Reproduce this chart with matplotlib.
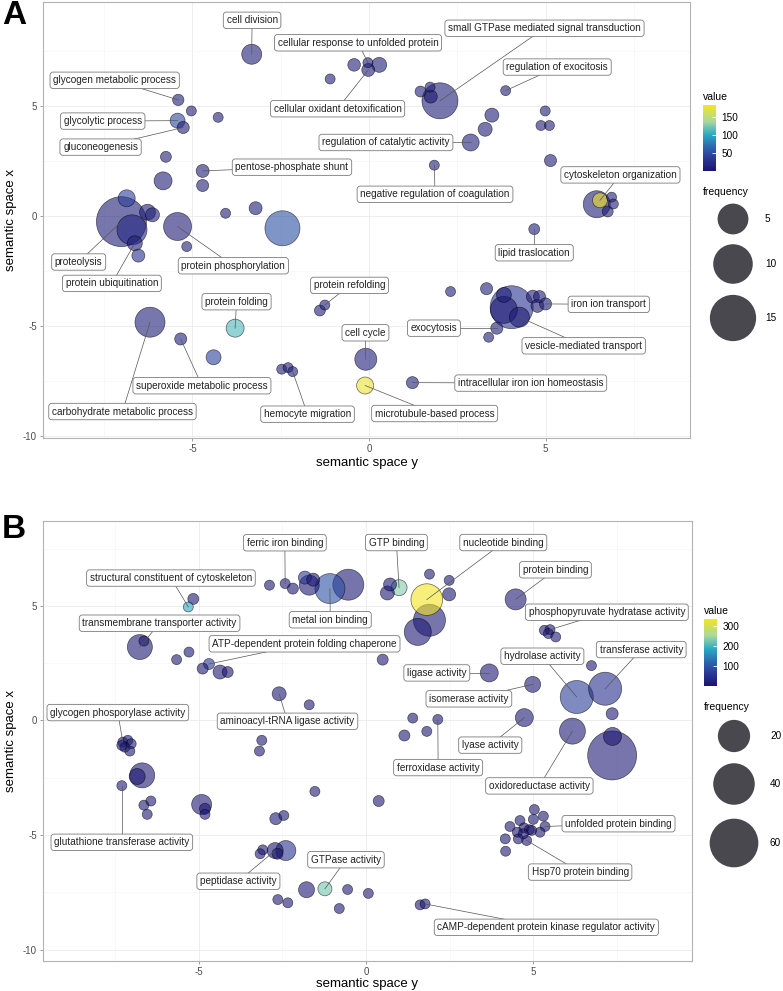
import numpy as np
import matplotlib.pyplot as plt
from matplotlib.colors import LinearSegmentedColormap, Normalize
from matplotlib.cm import ScalarMappable

plt.rcParams['font.family'] = ['Liberation Sans', 'DejaVu Sans']
plt.rcParams['axes.unicode_minus'] = False

# ---------------- panel A : biological process ----------------
a_x = [-7.01, 4.04, 2.01, -2.45, -6.20, -6.71, -5.42, 6.45, 3.82, -0.09,
       -3.32, 4.26, -5.83, -3.79, -0.11, 2.88, -6.86, -6.27, -5.42, 0.29,
       -6.63, -4.40, 6.54, 3.82, -6.13, 3.48, 3.29, -0.02, -0.42, -6.53,
       -4.71, 3.62, 1.75, 4.64, 4.77, -3.21, -5.26, -4.71, -5.40, 3.33,
       4.83, 5.00, 5.14, 1.23, -5.75, 1.46, -1.39, -5.33, 4.68, 6.76,
       -5.03, -4.27, -4.06, -5.16, 3.87, 1.85, 3.39, -1.10, 1.73, -0.03,
       4.99, 4.87, 5.11, 6.87, 6.92, 2.31, -1.25, -2.47, -2.29, -2.16]
a_y = [-0.26, -4.14, 5.22, -0.56, -4.82, -0.63, -0.48, 0.53, -4.26, -6.50,
       7.33, -4.59, 1.59, -5.09, -7.69, 3.33, 0.80, 0.17, 4.32, 6.85,
       -1.24, -6.41, 0.71, -3.58, 0.05, 4.57, 3.93, 6.62, 6.85, -1.80,
       2.04, -5.09, 5.41, -3.66, -4.08, 0.35, 4.01, 1.38, 5.26, -3.30,
       -3.66, -3.99, 2.51, -7.56, 2.68, 5.64, -4.29, -5.58, -0.60, 0.20,
       4.76, 4.47, 0.12, -1.39, 5.68, 2.30, -5.50, 6.21, 5.84, 6.95,
       4.76, 4.10, 4.10, 0.85, 0.54, -3.43, -4.04, -6.95, -6.88, -7.06]
a_value = [8, 30, 8, 50, 8, 15, 5, 8, 2, 8,
           8, 5, 8, 110, 175, 10, 40, 8, 45, 8,
           10, 40, 180, 5, 10, 8, 8, 5, 8, 25,
           8, 8, 3, 8, 5, 8, 8, 8, 8, 8,
           8, 8, 8, 8, 8, 8, 8, 8, 8, 5,
           8, 8, 8, 8, 8, 8, 8, 8, 8, 5,
           8, 8, 8, 8, 8, 8, 8, 8, 8, 8]
a_freq = [18.2, 12.4, 7.75, 7.17, 4.63, 4.63, 3.77, 3.37, 3.37, 1.73,
          1.23, 1.23, 0.82, 0.82, 0.65, 0.65, 0.65, 0.5, 0.38, 0.38,
          0.38, 0.38, 0.38, 0.38, 0.28, 0.28, 0.28, 0.2, 0.18, 0.2,
          0.2, 0.15, 0.2, 0.2, 0.2, 0.2, 0.15, 0.15, 0.12, 0.15,
          0.15, 0.15, 0.15, 0.15, 0.11, 0.11, 0.11, 0.15, 0.11, 0.11,
          0.1, 0.1, 0.1, 0.1, 0.1, 0.1, 0.1, 0.1, 0.1, 0.1,
          0.1, 0.1, 0.1, 0.1, 0.1, 0.1, 0.1, 0.1, 0.1, 0.1]

a_labels = ['cell division', 'cellular response to unfolded protein',
            'small GTPase mediated signal transduction', 'glycogen metabolic process',
            'glycolytic process', 'gluconeogenesis', 'cellular oxidant detoxification',
            'regulation of exocitosis', 'regulation of catalytic activity',
            'pentose-phosphate shunt', 'negative regulation of coagulation',
            'cytoskeleton organization', 'lipid traslocation', 'proteolysis',
            'protein ubiquitination', 'protein phosphorylation', 'protein refolding',
            'protein folding', 'cell cycle', 'iron ion transport', 'exocytosis',
            'vesicle-mediated transport', 'superoxide metabolic process',
            'carbohydrate metabolic process', 'hemocyte migration',
            'microtubule-based process', 'intracellular iron ion homeostasis']
a_lab_x = [-3.31, -0.31, 4.97, -7.20, -7.54, -7.60, -0.89, 5.33, 0.48, -2.18,
           1.87, 7.12, 4.68, -8.22, -7.28, -3.84, -0.55, -3.75, -0.10, 6.79,
           1.84, 6.08, -4.73, -6.98, -1.74, 1.86, 4.58]
a_lab_y = [8.87, 7.85, 8.51, 6.15, 4.30, 3.12, 4.86, 6.75, 3.33, 2.21,
           0.98, 1.86, -1.67, -2.09, -3.06, -2.26, -3.15, -3.89, -5.30, -4.01,
           -5.09, -5.89, -7.70, -8.87, -8.99, -8.96, -7.58]
a_lab_point = [10, 59, 2, 38, 18, 36, 27, 54, 15, 30,
               55, 22, 48, 0, 20, 6, 66, 13, 9, 41,
               31, 11, 47, 4, 69, 14, 43]

# ---------------- panel B : molecular function ----------------
b_x = [7.37, 6.31, 7.16, 1.90, 1.82, -0.53, -1.08, 1.55, 6.18, -6.77,
       -6.70, 4.48, -4.92, -2.40, -1.70, 3.69, 4.74, 7.38, 4.99, 0.99,
       -6.85, -2.72, -1.78, -4.37, -2.60, 0.64, -1.23, -1.83, -1.58, 0.72,
       2.49, 7.37, -2.70, -5.17, -4.70, -4.89, -4.14, -2.19, 0.50, 1.15,
       0.38, -4.82, -5.32, -6.65, -5.30, -5.67, -1.70, -2.89, -2.42, 1.90,
       2.49, 6.75, 1.40, 2.15, 1.82, -3.12, -3.19, -1.53, -2.46, -7.31,
       -6.65, -6.44, -6.55, -4.82, -3.09, -3.17, -0.55, 0.07, -2.64, -2.34,
       -0.80, 1.62, 1.77, -7.28, -7.13, -7.03, -7.22, -7.07, -7.31, 5.34,
       5.51, 5.46, 5.68, 5.04, 5.31, 5.01, 4.61, 4.31, 4.73, 4.89,
       5.36, 5.21, 4.53, 4.81, 4.56, 4.17, 4.18, 4.96, 4.71, -2.65]
b_y = [-1.53, 1.02, 1.38, 4.37, 5.27, 5.92, 5.75, 3.86, -0.47, 3.20,
       -2.40, 5.28, -3.67, -5.68, 5.90, 2.07, 0.12, -0.70, 1.57, 5.79,
       -2.45, -5.68, -7.39, 2.11, 1.16, 5.56, -7.35, 6.23, 6.14, 5.93,
       5.50, 0.29, -4.29, 5.30, 2.46, 2.26, 2.11, 5.75, 2.65, -0.66,
       -3.52, -3.86, 4.95, 3.46, 2.98, 2.65, 0.68, 5.90, 5.97, 6.38,
       6.11, 2.39, 0.10, 0.04, -0.48, -0.87, -1.34, -3.10, -4.15, -2.85,
       -3.70, -3.52, -4.10, -4.10, -5.65, -5.82, -7.38, -7.55, -7.82, -7.96,
       -8.21, -8.05, -8.01, -0.95, -0.87, -1.02, -1.17, -1.34, -1.09, 3.93,
       3.96, 3.79, 3.64, -3.89, -4.18, -4.32, -4.37, -4.63, -4.69, -4.77,
       -4.63, -4.88, -4.88, -5.24, -5.17, -5.17, -5.71, -4.80, -4.95, -5.82]
b_value = [10, 70, 45, 10, 330, 8, 90, 8, 10, 8,
           8, 8, 8, 50, 8, 8, 8, 2, 8, 230,
           2, 8, 8, 8, 8, 8, 220, 60, 8, 8,
           8, 8, 8, 8, 60, 8, 5, 8, 8, 8,
           8, 3, 180, 3, 8, 8, 8, 8, 8, 8,
           8, 8, 8, 8, 8, 8, 8, 8, 8, 8,
           8, 8, 8, 8, 8, 8, 8, 8, 8, 8,
           8, 8, 8, 8, 5, 8, 5, 8, 8, 8,
           8, 2, 8, 8, 8, 5, 8, 8, 3, 5,
           8, 8, 8, 8, 8, 8, 8, 5, 3, 2]
b_freq = [61, 21.4, 21.4, 19.6, 19.0, 17.8, 16.2, 11.8, 10.4, 9.2,
          9.2, 5.04, 4.2, 4.2, 4.2, 2.76, 2.76, 2.76, 1.64, 1.64,
          1.64, 1.64, 1.64, 0.84, 0.84, 0.84, 0.84, 0.56, 0.56, 0.56,
          0.56, 0.36, 0.36, 0.24, 0.24, 0.24, 0.24, 0.24, 0.24, 0.24,
          0.24, 0.24, 0.2, 0.2, 0.2, 0.2, 0.2, 0.2, 0.2, 0.2,
          0.2, 0.2, 0.2, 0.2, 0.2, 0.2, 0.2, 0.2, 0.2, 0.2,
          0.2, 0.2, 0.2, 0.2, 0.2, 0.2, 0.2, 0.2, 0.2, 0.2,
          0.2, 0.2, 0.2, 0.2, 0.2, 0.2, 0.2, 0.2, 0.2, 0.2,
          0.2, 0.2, 0.2, 0.2, 0.2, 0.2, 0.2, 0.2, 0.2, 0.2,
          0.2, 0.2, 0.2, 0.2, 0.2, 0.2, 0.2, 0.2, 0.2, 0.24]

b_labels = ['ferric iron binding', 'GTP binding', 'nucleotide binding',
            'structural constituent of cytoskeleton', 'protein binding',
            'metal ion binding', 'transmembrane transporter activity',
            'phosphopyruvate hydratase activity', 'ATP-dependent protein folding chaperone',
            'transferase activity', 'hydrolase activity', 'ligase activity',
            'isomerase activity', 'glycogen phosporylase activity',
            'aminoacyl-tRNA ligase activity', 'lyase activity', 'ferroxidase activity',
            'oxidoreductase activity', 'unfolded protein binding',
            'glutathione transferase activity', 'Hsp70 protein binding',
            'peptidase activity', 'GTPase activity',
            'cAMP-dependent protein kinase regulator activity']
b_lab_x = [-2.43, 0.91, 4.11, -5.84, 5.67, -1.07, -6.18, 7.21, -1.84, 8.24,
           5.28, 2.12, 3.08, -7.43, -2.35, 3.72, 2.16, 5.19, 7.56, -7.31,
           6.41, -3.82, -0.60, 5.40]
b_lab_y = [7.75, 7.76, 7.76, 6.21, 6.57, 4.39, 4.24, 4.72, 3.34, 3.09,
           2.80, 2.07, 0.94, 0.34, -0.04, -1.08, -2.06, -2.86, -4.51, -5.32,
           -6.62, -7.02, -6.08, -9.03]
b_lab_point = [48, 19, 4, 42, 11, 6, 9, 80, 34, 2,
               1, 15, 18, 73, 24, 16, 53, 8, 90, 59,
               93, 21, 26, 72]

# colour scale (navy -> blue -> teal -> green -> yellow)
cmap = LinearSegmentedColormap.from_list('rev', [
    (0.0, '#1a1470'), (0.2, '#2a3a98'), (0.38, '#2d6cb1'),
    (0.55, '#29aac3'), (0.75, '#a8d8a0'), (1.0, '#f6e51f')])


def bubble_area(freq, r1, k, f0):
    d_px = r1 + k * np.sqrt(np.maximum(np.asarray(freq, float) - f0, 0))
    return (d_px * 0.72) ** 2


def draw_panel(ax, x, y, val, freq, labels, lx, ly, lpt, norm, sz, xlim, ylim, xpad):
    ax.scatter(x, y, s=bubble_area(freq, *sz), c=val, cmap=cmap, norm=norm,
               alpha=0.6, edgecolors='black', linewidths=0.5, zorder=2)
    for t, tx, ty, p in zip(labels, lx, ly, lpt):
        ax.plot([x[p], tx], [y[p], ty], color='#555555', lw=0.5, zorder=3)
        ax.text(tx, ty, t, fontsize=7.2, ha='center', va='center', zorder=4,
                color='#222222',
                bbox=dict(boxstyle='round,pad=0.32,rounding_size=0.3',
                          fc='white', ec='#7a7a7a', lw=0.6))
    ax.set_xlim(*xlim)
    ax.set_ylim(*ylim)
    ax.set_xticks([-5, 0, 5])
    ax.set_yticks([-10, -5, 0, 5])
    ax.set_xticks([-7.5, -2.5, 2.5, 7.5], minor=True)
    ax.set_yticks([-7.5, -2.5, 2.5, 7.5], minor=True)
    ax.grid(which='major', color='#ebebeb', lw=0.6)
    ax.grid(which='minor', color='#f3f3f3', lw=0.4)
    ax.set_axisbelow(True)
    ax.tick_params(which='major', labelsize=7, labelcolor='#4d4d4d',
                   length=2.5, width=0.5, color='#777777', pad=2)
    ax.tick_params(which='minor', length=0)
    for sp in ax.spines.values():
        sp.set_color('#b3b3b3')
        sp.set_linewidth(0.8)
    ax.set_xlabel('semantic space y', fontsize=9.5, labelpad=xpad)
    ax.set_ylabel('semantic space x', fontsize=9.5, labelpad=4)


W, H = 783, 991
fig = plt.figure(figsize=(W / 100, H / 100), dpi=100)


def fbox(l, t, r, b):
    return [l / W, 1 - b / H, (r - l) / W, (b - t) / H]


axA = fig.add_axes(fbox(43, 2, 690, 438))
normA = Normalize(0, 182.5)
draw_panel(axA, a_x, a_y, a_value, a_freq, a_labels, a_lab_x, a_lab_y, a_lab_point,
           normA, (10, 9.4, 0.1), (-9.23, 9.09), (-10.07, 9.7), 2)

axB = fig.add_axes(fbox(43, 521, 692, 961))
normB = Normalize(0, 333)
draw_panel(axB, b_x, b_y, b_value, b_freq, b_labels, b_lab_x, b_lab_y, b_lab_point,
           normB, (10, 5.0, 0.2), (-9.67, 9.76), (-10.5, 8.7), 0.5)

# legends
lax = fig.add_axes([0, 0, 1, 1])
lax.set_xlim(0, W)
lax.set_ylim(H, 0)
lax.axis('off')


def legend(norm, cb_box, cb_ticks, freq_title_y, sizes, size_y, sz, lab_x):
    l, t, r, b = cb_box
    lax.text(l, t - 8, 'value', fontsize=7.5, va='center', ha='left')
    cax = fig.add_axes(fbox(l, t, r, b))
    cb = fig.colorbar(ScalarMappable(norm=norm, cmap=cmap), cax=cax, ticks=cb_ticks)
    cb.outline.set_visible(False)
    cax.tick_params(length=3, width=0.6, color='white', direction='in',
                    labelsize=7.2, pad=4)
    lax.text(l, freq_title_y, 'frequency', fontsize=7.5, va='center', ha='left')
    lax.scatter([l + 30] * len(sizes), size_y, s=bubble_area(sizes, *sz),
                color='#2a2830', alpha=0.85, edgecolors='none')
    for v, yy in zip(sizes, size_y):
        lax.text(lab_x, yy, str(v), fontsize=7.2, va='center', ha='left')


legend(normA, (703, 105, 716, 171), [50, 100, 150], 192,
       [5, 10, 15], [219, 264, 318], (10, 9.4, 0.1), 765)
legend(normB, (704, 619, 717, 686), [100, 200, 300], 707,
       [20, 40, 60], [736, 784, 843], (10, 5.0, 0.2), 770)

lax.text(2, 15, 'A', fontsize=24, fontweight='bold', va='center', ha='left')
lax.text(2, 530, 'B', fontsize=24, fontweight='bold', va='center', ha='left')

fig.savefig('out.png', dpi=100)
